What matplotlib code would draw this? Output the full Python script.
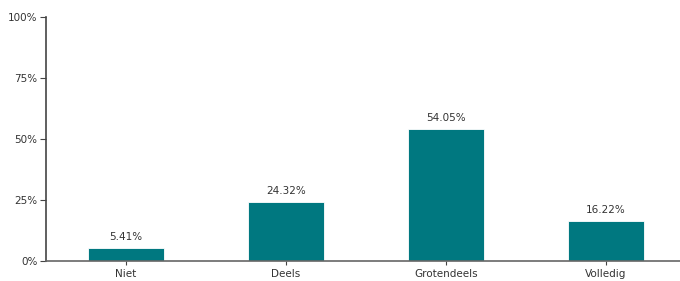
import matplotlib
matplotlib.use("Agg")
import matplotlib.pyplot as plt

categories = ["Niet", "Deels", "Grotendeels", "Volledig"]
values = [5.41, 24.32, 54.05, 16.22]
yticks = [0, 25, 50, 75, 100]
ytick_labels = ["0%", "25%", "50%", "75%", "100%"]

fig = plt.figure(figsize=(6.8, 2.81), dpi=100)
ax = fig.add_axes([46/680, 20/281, 640/680, 244/281])
x = range(len(categories))
ax.bar(x, values, width=0.475, color="#007880", edgecolor="white", linewidth=0.6)
for xi, v in zip(x, values):
    ax.text(xi, v + 2.5, f"{v:.2f}%", ha="center", va="bottom", fontsize=7.5, color="#333333")
ax.set_xlim(-0.5, 3.5)
ax.set_ylim(0, 100)
ax.set_yticks(yticks)
ax.set_yticklabels(ytick_labels)
ax.set_xticks(list(x))
ax.set_xticklabels(categories)
for s in ["top", "right"]:
    ax.spines[s].set_visible(False)
ax.spines["left"].set_color("#444444")
ax.spines["bottom"].set_color("#666666")
ax.spines["left"].set_linewidth(1.2)
ax.spines["bottom"].set_linewidth(1.2)
ax.tick_params(axis="y", length=4, width=0.8, color="#444444", labelsize=7.5, labelcolor="#333333", pad=2)
ax.tick_params(axis="x", length=3, width=0.8, color="#444444", labelsize=7.5, labelcolor="#333333", pad=3)
fig.savefig("out.png", dpi=100)
